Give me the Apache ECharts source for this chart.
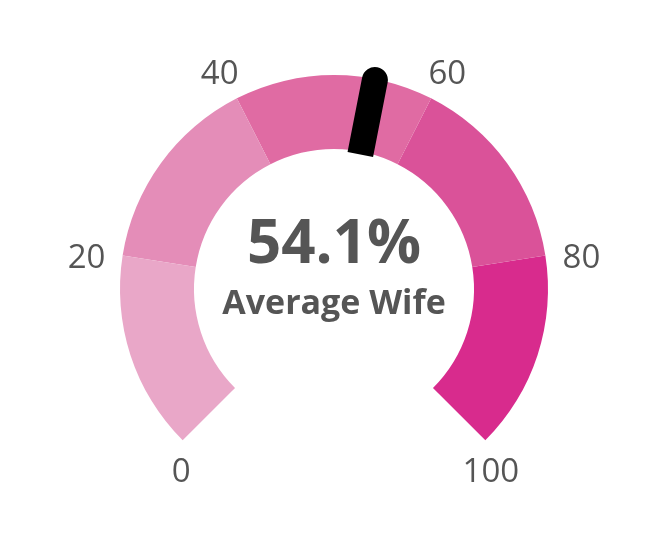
<!DOCTYPE html>
<html>
<head>
<meta charset="utf-8">
<script src="https://cdn.jsdelivr.net/npm/echarts@6/dist/echarts.min.js"></script>
<style>
  html, body { margin: 0; padding: 0; background: #fff; }
  #gauge { width: 672px; height: 546px; }
</style>
</head>
<body>
<div id="gauge"></div>
<script>
  // data
  var gaugeName = 'Average Wife';
  var gaugeValue = [54.1];
  var bandStops = [0.2, 0.4, 0.6, 0.8, 1];
  var bandColors = ['#e9a7c8', '#e48db8', '#e06ba3', '#da5299', '#d82b8d'];
  var tickLabels = [0, 20, 40, 60, 80, 100];

  // nudges for each tick label (top, right, bottom, left)
  var labelPad = {
    0: [0, 0, 58, 50],
    20: [34, 0, 0, 30],
    40: [73, 0, 0, 3],
    60: [73, 4, 0, 0],
    80: [34, 30, 0, 0],
    100: [0, 27, 58, 0]
  };
  var rich = {};
  tickLabels.forEach(function (t) {
    rich['t' + t] = {
      fontFamily: 'Open Sans',
      fontSize: 33,
      lineHeight: 33,
      color: '#555555',
      padding: labelPad[t]
    };
  });

  var chart = echarts.init(document.getElementById('gauge'));
  chart.setOption({
    backgroundColor: '#ffffff',
    animation: false,
    series: [
      {
        type: 'gauge',
        center: [334, 289],
        radius: 214,
        startAngle: 225,
        endAngle: -45,
        min: 0,
        max: 100,
        splitNumber: 5,
        axisLine: {
          lineStyle: {
            width: 74,
            color: bandStops.map(function (s, i) { return [s, bandColors[i]]; })
          }
        },
        progress: { show: false },
        axisTick: { show: false },
        splitLine: { show: false, length: 0, distance: 0 },
        axisLabel: {
          distance: -86,
          formatter: function (v) {
            return '{t' + Math.round(v) + '|' + Math.round(v) + '}';
          },
          rich: rich
        },
        pointer: {
          icon: 'path://M0,13A13,13,0,0,1,26,13L26,89L0,89Z',
          width: 26,
          length: 89,
          offsetCenter: [0, -137],
          keepAspect: false,
          itemStyle: { color: '#000000' }
        },
        anchor: { show: false },
        title: {
          offsetCenter: [0, 15],
          color: '#555555',
          fontFamily: 'Open Sans',
          fontWeight: 'bold',
          fontSize: 34
        },
        detail: {
          offsetCenter: [0, -43],
          color: '#555555',
          fontFamily: 'Open Sans',
          fontWeight: 'bold',
          fontSize: 60,
          formatter: '{value}%'
        },
        data: gaugeValue.map(function (v) { return { value: v, name: gaugeName }; })
      }
    ]
  });
</script>
</body>
</html>
